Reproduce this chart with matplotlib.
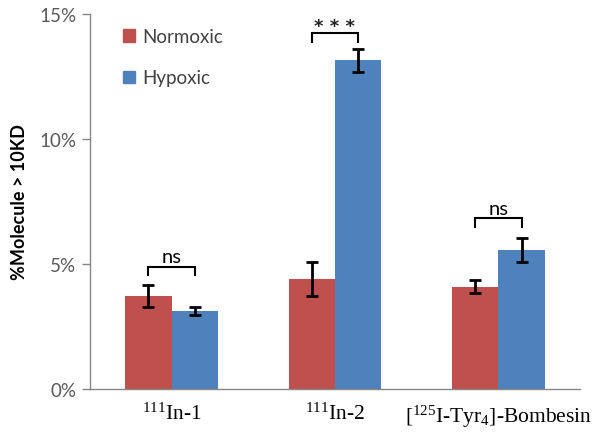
import numpy as np
import matplotlib
matplotlib.use("Agg")
import matplotlib.pyplot as plt
from matplotlib.patches import Patch

plt.rcParams['mathtext.fontset'] = 'custom'
plt.rcParams['mathtext.rm'] = 'Liberation Serif'
plt.rcParams['mathtext.it'] = 'Liberation Serif'

categories = ["$^{111}$In-1", "$^{111}$In-2", "[$^{125}$I-Tyr$_4$]-Bombesin"]
normoxic = [3.72, 4.40, 4.10]
normoxic_err = [0.43, 0.69, 0.25]
hypoxic = [3.12, 13.16, 5.57]
hypoxic_err = [0.17, 0.46, 0.48]
sig_labels = ["ns", "***", "ns"]
sig_heights = [4.90, 14.24, 6.84]
yticks = [0, 5, 10, 15]
ytick_labels = ["0%", "5%", "10%", "15%"]

red = "#C0504D"
blue = "#4F81BD"
gray = "#868686"

fig = plt.figure(figsize=(6.01, 4.39), dpi=100)
ax = fig.add_axes([90/601, 1-390/439, (580-90)/601, (390-15)/439])

x = np.arange(len(categories))
w = 0.284
ax.bar(x - w/2, normoxic, w, color=red, zorder=2)
ax.bar(x + w/2, hypoxic, w, color=blue, zorder=2)
ax.errorbar(x - w/2, normoxic, yerr=normoxic_err, fmt='none', ecolor='black',
            elinewidth=2, capsize=4.5, capthick=2, zorder=3)
ax.errorbar(x + w/2, hypoxic, yerr=hypoxic_err, fmt='none', ecolor='black',
            elinewidth=2, capsize=4.5, capthick=2, zorder=3)

leg_drop = 0.34
for i, (lab, h) in enumerate(zip(sig_labels, sig_heights)):
    x0, x1 = x[i] - w/2, x[i] + w/2
    ax.plot([x0, x0, x1, x1], [h - leg_drop, h, h, h - leg_drop], color='black',
            lw=1.5, zorder=3, solid_joinstyle='miter')
    if lab == "ns":
        ax.text(x[i], h + 0.05, lab, ha='center', va='bottom', fontsize=14.5,
                family='Lato', color='black')
    else:
        ax.text(x[i], h + 0.28, " ".join(lab), ha='center', va='center', fontsize=13,
                fontweight='bold', family='DejaVu Sans', color='#222222')

ax.set_xlim(-0.5, 2.5)
ax.set_ylim(0, 15)
ax.set_yticks(yticks)
ax.set_yticklabels(ytick_labels, family='Lato', fontsize=13.5, color='#595959')
ax.set_xticks(x)
ax.set_xticklabels(categories, family='Liberation Serif', fontsize=15.5, color='black')
ax.tick_params(axis='x', length=0, pad=10)
ax.tick_params(axis='y', length=6, color=gray, width=1, pad=4)
for s in ['top', 'right']:
    ax.spines[s].set_visible(False)
for s in ['left', 'bottom']:
    ax.spines[s].set_color(gray)
    ax.spines[s].set_linewidth(1)

ax.set_ylabel("%Molecule > 10KD", family='Lato', fontweight='bold', fontsize=13,
              color='black', labelpad=8)

handles = [Patch(color=red, label="Normoxic"), Patch(color=blue, label="Hypoxic")]
leg = ax.legend(handles=handles, loc='upper left', bbox_to_anchor=(123/601, 1-29/439),
                bbox_transform=fig.transFigure, frameon=False, handlelength=0.65,
                handleheight=0.65, handletextpad=0.4, labelspacing=1.3,
                prop={'family': 'Lato', 'size': 13.5}, borderaxespad=0, borderpad=0)
for t in leg.get_texts():
    t.set_color('#404040')

fig.savefig("out.png", dpi=100)
